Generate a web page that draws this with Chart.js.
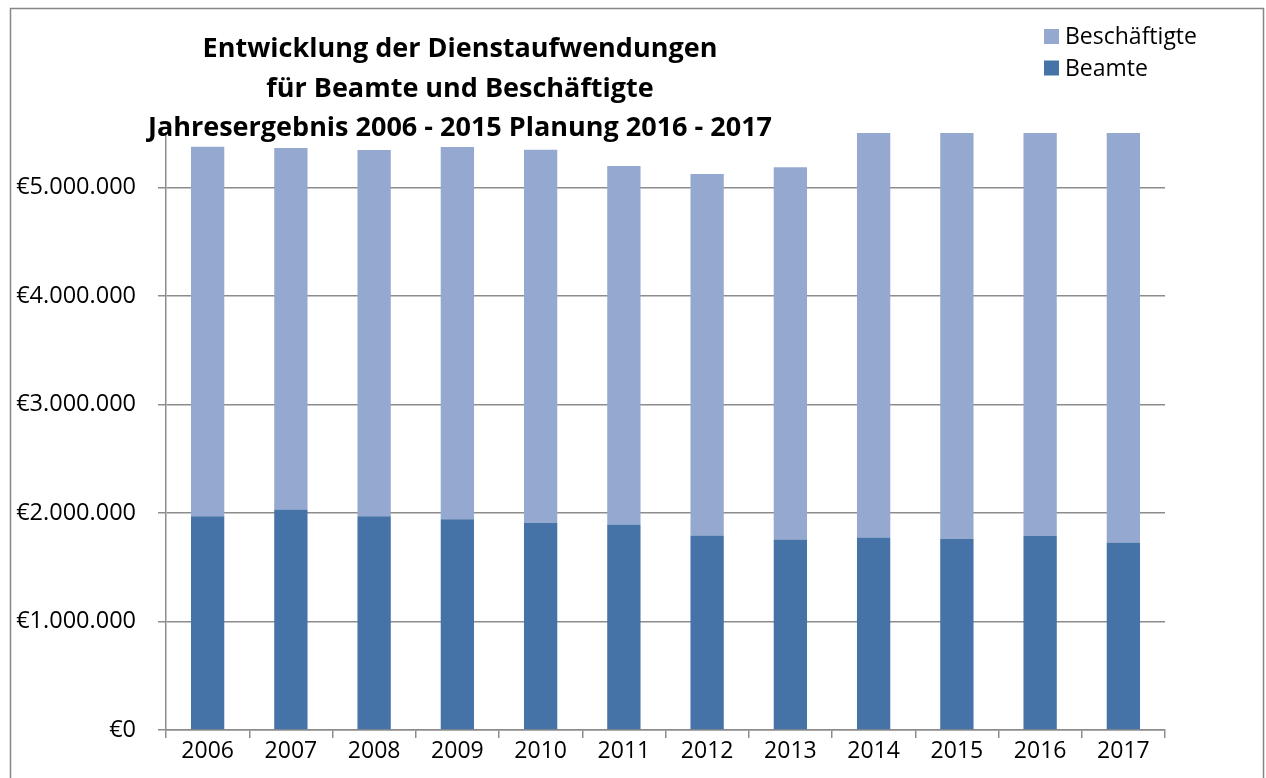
<!DOCTYPE html>
<html>
<head>
<meta charset="utf-8">
<script src="https://cdn.jsdelivr.net/npm/chart.js@4"></script>
<style>
  body { margin: 0; background: #fff; }
  #wrap { width: 1266px; height: 778px; position: relative; }
</style>
</head>
<body>
<div id="wrap"><canvas id="chart"></canvas></div>
<script>
// Dienstaufwendungen chart

const years = ['2006', '2007', '2008', '2009', '2010', '2011', '2012', '2013', '2014', '2015', '2016', '2017'];

const beamte = [1969000, 2031000, 1969000, 1941000, 1910000, 1894000, 1793000, 1756000, 1774000, 1762000, 1790000, 1728000];
const beschaeftigte = [3404000, 3330000, 3374000, 3429000, 3435000, 3303000, 3330000, 3429000, 3826000, 3838000, 3810000, 3872000];

const yTicks = [0, 1000000, 2000000, 3000000, 4000000, 5000000];

const titleLines = ['Entwicklung der Dienstaufwendungen', 'für Beamte und Beschäftigte', 'Jahresergebnis 2006 - 2015 Planung 2016 - 2017'];

const lightBlue = '#95a9d0';
const darkBlue = '#4572a7';
const gridGray = '#8c8c8c';
const fontName = "'Open Sans', sans-serif";

function euro(v) {
    return '€' + String(v).replace(/\B(?=(\d{3})+(?!\d))/g, '.');
}

// frame, title and legend
const decorations = {
    id: 'decorations',
    beforeDraw(chart) {
        const c = chart.ctx;
        c.save();
        c.fillStyle = '#fff';
        c.fillRect(0, 0, chart.width, chart.height);
        c.strokeStyle = '#868686';
        c.lineWidth = 1.5;
        c.strokeRect(10.5, 8.5, 1253, 820);
        c.restore();
    },
    afterDraw(chart) {
        const c = chart.ctx;
        c.save();
        c.fillStyle = '#000';
        c.font = 'bold 27px ' + fontName;
        c.textAlign = 'center';
        c.textBaseline = 'alphabetic';
        titleLines.forEach((line, i) => {
            c.fillText(line, 460, 57 + i * 39.5);
        });

        c.font = '23px ' + fontName;
        c.textAlign = 'left';
        const ds = chart.data.datasets.slice().reverse();
        ds.forEach((d, i) => {
            const y = 29 + i * 31.5;
            c.fillStyle = d.backgroundColor;
            c.fillRect(1044, y, 15, 15);
            c.fillStyle = '#000';
            c.fillText(d.label, 1065, y + 15);
        });
        c.restore();
    }
};

const ctx = document.getElementById('chart').getContext('2d');
const chart = new Chart(ctx, {
    type: 'bar',
    data: {
        labels: years,
        datasets: [
            { label: 'Beamte', data: beamte, backgroundColor: darkBlue, borderWidth: 0 },
            { label: 'Beschäftigte', data: beschaeftigte, backgroundColor: lightBlue, borderWidth: 0 }
        ]
    },
    options: {
        responsive: true,
        maintainAspectRatio: false,
        animation: false,
        barPercentage: 0.4,
        categoryPercentage: 1.0,
        layout: { padding: { top: 133, right: 101, left: 0, bottom: 0 } },
        plugins: {
            legend: { display: false },
            title: { display: false },
            tooltip: { enabled: false }
        },
        scales: {
            x: {
                stacked: true,
                grid: {
                    offset: true,
                    drawOnChartArea: false,
                    drawTicks: true,
                    tickLength: 8,
                    color: gridGray,
                    lineWidth: 1.5
                },
                border: { display: true, color: gridGray, width: 1.5 },
                ticks: {
                    color: '#000',
                    font: { family: fontName, size: 23 },
                    padding: 0,
                    maxRotation: 0
                },
                afterFit(scale) { scale.height = 48; }
            },
            y: {
                stacked: true,
                min: 0,
                max: 5500000,
                grid: {
                    color: gridGray,
                    lineWidth: 1.5,
                    drawTicks: true,
                    tickLength: 8
                },
                border: { display: true, color: gridGray, width: 1.5 },
                ticks: {
                    color: '#000',
                    font: { family: fontName, size: 23.5 },
                    padding: 22,
                    callback: v => euro(v)
                },
                afterBuildTicks(scale) {
                    scale.ticks = yTicks.map(v => ({ value: v }));
                },
                afterFit(scale) { scale.width = 166; }
            }
        }
    },
    plugins: [decorations]
});
</script>
</body>
</html>
